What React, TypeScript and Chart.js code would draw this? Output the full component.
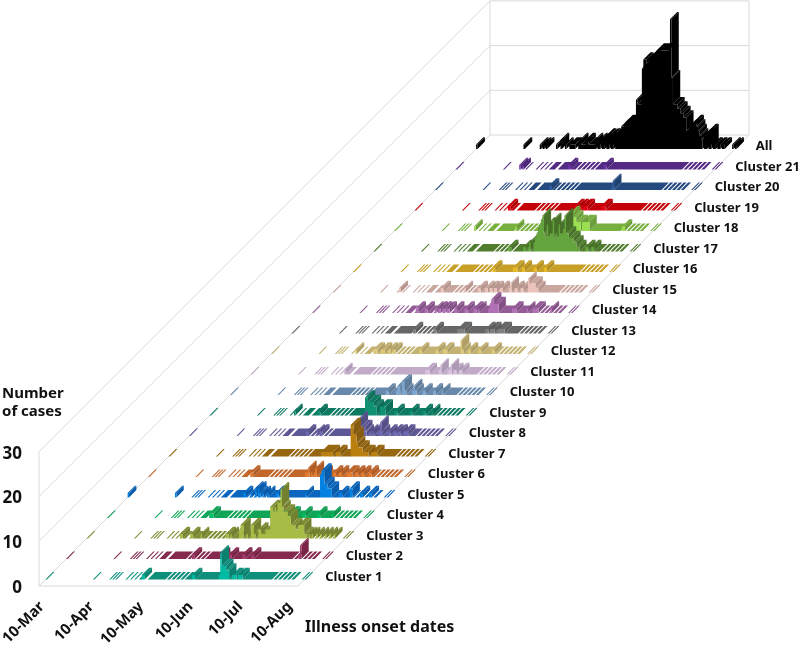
import React, { useEffect, useRef } from "react";
import { Chart, registerables } from "chart.js";

Chart.register(...registerables);

type Pair = number[];

// Onset-axis positions (in one-day slots) that have any case at all.
const onsetSlots = [
  0, 32, 43, 45, 47, 54, 57, 60, 63, 64, 65, 66,
  69, 70, 71, 72, 73, 74, 75, 76, 77, 78, 79, 80, 82, 83, 85, 86, 88, 89, 91, 92,
  94, 95, 96, 97, 98, 99, 100, 101, 102, 103, 104, 105, 106, 107, 108, 109, 110, 111, 112, 113,
  114, 115, 116, 117, 118, 119, 120, 121, 122, 123, 124, 125, 126, 127, 128, 129, 130, 131, 132, 133,
  134, 135, 136, 137, 138, 139, 140, 141, 142, 143, 144, 145, 146, 147, 148, 149, 150, 151, 152,
  154, 155, 157, 158, 160, 161, 163, 164, 166, 167, 173, 175,
];

const dateLabels = ["10-Mar", "10-Apr", "10-May", "10-Jun", "10-Jul", "10-Aug"];
const dateSlots = [2, 35.5, 69, 102.5, 136, 169.5];
const caseTicks = [0, 10, 20, 30];
const seriesNames = [
  "Cluster 1", "Cluster 2", "Cluster 3", "Cluster 4", "Cluster 5", "Cluster 6", "Cluster 7",
  "Cluster 8", "Cluster 9", "Cluster 10", "Cluster 11", "Cluster 12", "Cluster 13", "Cluster 14",
  "Cluster 15", "Cluster 16", "Cluster 17", "Cluster 18", "Cluster 19", "Cluster 20", "Cluster 21", "All",
];

// [slot, cases]; every other slot in onsetSlots holds zero cases.
const cluster1: Pair[] = [[65,1],[66,1],[99,1],[100,1],[117,1],[118,6],[119,3],[120,3],[121,3],[122,2],[123,2],[126,1],[127,1],[128,1],[130,1],[131,1],[132,1]];
const cluster2: Pair[] = [[85,1],[86,1],[104,1],[105,1],[110,1],[111,1],[119,1],[120,1],[125,1],[126,1],[157,1],[158,3]];
const cluster3: Pair[] = [[63,1],[64,1],[70,1],[71,1],[77,1],[94,1],[95,1],[97,1],[103,2],[104,3],[105,3],[108,1],[111,3],[112,3],[113,1],[116,2],[117,2],[118,1],[119,1],[120,1],[121,2],[122,2],[123,2],[124,7],[125,7],[126,6],[127,7],[128,6],[129,8],[130,8],[131,11],[132,7],[133,6],[134,6],[135,6],[136,5],[137,5],[138,3],[139,3],[140,3],[141,2],[142,2],[143,3],[144,3],[145,3],[146,3],[147,1],[148,1],[150,1],[152,1],[155,1],[158,1],[161,1],[164,1],[167,1]];
const cluster4: Pair[] = [[69,1],[70,1],[71,1],[123,1],[124,1],[125,1],[132,1],[133,1],[142,1],[143,1],[152,1]];
const cluster5: Pair[] = [[0,1],[32,1],[78,1],[79,1],[83,1],[86,2],[88,2],[89,1],[91,1],[94,1],[100,1],[101,1],[120,1],[130,5],[131,6],[132,6],[133,3],[134,3],[135,2],[136,2],[137,2],[143,1],[144,1],[150,2],[151,2],[157,1],[158,1],[163,1],[164,1]];
const cluster6: Pair[] = [[69,1],[70,1],[106,1],[107,1],[108,2],[110,1],[112,1],[113,2],[118,1],[119,1],[125,1],[126,1],[129,1],[130,1],[134,1],[135,1],[136,1],[137,1],[140,1],[141,1],[144,1],[145,1],[149,1],[150,1]];
const cluster7: Pair[] = [[103,1],[104,1],[105,1],[106,1],[107,1],[108,1],[109,1],[110,1],[113,1],[114,1],[115,1],[123,7],[124,7],[125,5],[126,5],[127,3],[128,2],[129,2],[130,2],[131,1],[132,1],[133,1],[134,1],[137,1],[138,1],[139,1],[140,1]];
const cluster8: Pair[] = [[79,1],[80,1],[86,1],[88,1],[89,1],[115,4],[116,2],[117,2],[118,2],[119,1],[122,1],[124,1],[128,1],[129,3],[130,1],[134,1],[135,1],[138,1],[139,1],[141,1],[142,1],[145,1],[146,1],[147,1]];
const cluster9: Pair[] = [[57,1],[73,1],[74,1],[105,4],[106,4],[107,3],[108,3],[109,3],[110,3],[111,2],[112,2],[115,2],[116,2],[117,2],[118,2],[125,1],[126,1],[135,1],[136,1],[144,1],[145,1],[150,1]];
const cluster10: Pair[] = [[105,1],[106,1],[112,1],[113,2],[114,2],[116,3],[117,3],[118,1],[123,1],[124,2],[125,1],[130,1],[131,1],[137,1],[138,1],[143,1]];
const cluster11: Pair[] = [[63,1],[118,1],[119,1],[120,1],[127,1],[128,2],[133,1],[134,1],[135,2],[137,1],[138,1],[141,1],[142,1]];
const cluster12: Pair[] = [[57,1],[69,1],[70,1],[71,1],[74,1],[75,1],[76,1],[79,1],[80,1],[82,1],[83,1],[100,1],[101,1],[111,1],[112,1],[116,1],[117,1],[118,1],[128,3],[129,1],[133,1],[134,1],[140,1],[141,1],[149,1],[150,1]];
const cluster13: Pair[] = [[82,1],[83,1],[96,1],[97,1],[112,1],[113,1],[114,1],[115,1],[116,1],[131,1],[132,1],[134,1],[135,1],[136,1],[139,1],[140,1],[141,1],[142,1],[143,1]];
const cluster14: Pair[] = [[70,1],[71,1],[76,1],[77,1],[83,1],[85,1],[86,1],[88,1],[89,1],[91,1],[92,1],[96,1],[97,1],[103,1],[104,1],[109,1],[110,1],[112,1],[119,1],[120,2],[121,3],[122,3],[123,2],[124,2],[125,2],[135,1],[136,1],[137,1],[145,1],[149,1],[150,1],[151,1],[152,1],[161,1]];
const cluster15: Pair[] = [[45,1],[73,1],[74,1],[89,1],[98,1],[99,1],[103,1],[104,1],[106,1],[107,1],[109,1],[110,1],[113,1],[114,1],[119,1],[120,2],[123,1],[124,1],[127,1],[128,1],[132,3],[133,2],[134,2],[135,2],[136,2],[137,1],[138,1]];
const cluster16: Pair[] = [[94,1],[95,1],[108,1],[109,1],[110,1],[114,1],[115,1],[122,1],[123,1],[129,1],[130,1]];
const cluster17: Pair[] = [[91,1],[92,1],[101,1],[102,1],[104,1],[105,2],[108,2],[109,3],[110,4],[111,5],[112,6],[113,7],[114,8],[115,4],[116,3],[117,6],[118,3],[119,4],[120,4],[121,7],[122,3],[123,4],[124,3],[125,6],[126,4],[127,4],[128,5],[129,8],[130,4],[131,4],[132,3],[133,3],[134,3],[135,2],[136,2],[137,1],[138,1],[143,1],[144,1],[147,1],[148,1]];
const cluster18: Pair[] = [[54,1],[82,1],[116,1],[118,2],[119,4],[120,4],[121,3],[122,3],[123,2],[124,2],[125,2],[127,2],[128,2],[129,2],[130,2],[131,2],[154,1],[155,1]];
const cluster19: Pair[] = [[63,1],[64,1],[108,1],[109,1],[111,1],[112,1],[114,1],[115,1],[116,1],[126,1],[127,1],[128,1]];
const cluster20: Pair[] = [[77,1],[78,1],[119,1],[120,2]];
const cluster21: Pair[] = [[43,1],[45,1],[76,1],[77,1],[100,1],[101,1]];
const allCases: Pair[] = [[0,1],[32,1],[43,1],[45,1],[47,1],[54,1],[57,2],[60,1],[63,1],[64,1],[65,1],[66,1],[69,1],[70,2],[71,1],[72,1],[73,1],[74,2],[75,2],[76,1],[77,1],[78,1],[79,1],[80,2],[82,1],[83,2],[85,2],[86,2],[88,3],[89,3],[91,3],[92,3],[94,3],[95,3],[96,3],[97,4],[98,5],[99,5],[100,5],[101,6],[102,6],[103,6],[104,6],[105,6],[106,6],[107,6],[108,11],[109,10],[110,10],[111,10],[112,18],[113,20],[114,20],[115,19],[116,19],[117,20],[118,20],[119,21],[120,21],[121,21],[122,22],[123,22],[124,22],[125,22],[126,22],[127,22],[128,22],[129,22],[130,23],[131,29],[132,16],[133,10],[134,10],[135,10],[136,9],[137,9],[138,8],[139,8],[140,7],[141,7],[142,4],[143,4],[144,5],[145,5],[146,5],[147,6],[148,6],[149,5],[150,4],[151,3],[152,2],[154,3],[155,3],[157,4],[158,4],[160,1],[161,1],[163,1],[164,1],[166,1],[167,1],[173,1],[175,1]];

const seriesValues: Pair[][] = [
  cluster1, cluster2, cluster3, cluster4, cluster5, cluster6, cluster7, cluster8, cluster9, cluster10, cluster11,
  cluster12, cluster13, cluster14, cluster15, cluster16, cluster17, cluster18, cluster19, cluster20, cluster21, allCases,
];

const topColors = ["#0E8F7C","#85294F","#7F8E34","#0FA556","#0A66BE","#C2662A","#966610","#5E5896","#0D7A62","#6889AB","#C2ABC9","#C4B273","#666666","#935A96","#C9A69E","#C8A027","#4F7C2D","#78B040","#C40009","#254A80","#552A85","#000000"];
const frontColors = ["#00BBA2","#A33A6C","#A6BC45","#00BF60","#0482E2","#E27C30","#B98010","#7068B2","#109272","#7EA6CE","#D6C0DD","#DCC878","#808080","#B070B4","#EBC3BA","#E8BA28","#64A43C","#9ADF50","#E40012","#2E5CA0","#6A32A2","#000000"];
const sideColors = ["#0C806E","#782547","#72802F","#0E944D","#095CAB","#AF5C26","#875C0E","#545087","#0C6E58","#5E7B9A","#AF9AB5","#B0A068","#5C5C5C","#845187","#B5958E","#B49023","#477028","#6C9E3A","#B00008","#214373","#4C2678","#000000"];

const PX_PER_SLOT = 1.48;
const PX_PER_CASE = 4.47;
const ROW_PX = 20.5;
const ROW_FRONT_PX = 6.6;
const ROW_DEPTH_PX = 7.3;
const LAST_SLOT = 175;

const project = (slot: number, depthPx: number, cases: number) => ({
  x: slot + depthPx / PX_PER_SLOT,
  y: cases + depthPx / PX_PER_CASE,
});
const GAP = { x: NaN, y: NaN };

function buildRow(values: Pair[], row: number) {
  const byslot = new Map(values.map(([s, v]) => [s, v]));
  const f = ROW_FRONT_PX + ROW_PX * row;
  const b = f + ROW_DEPTH_PX;
  const active = new Set(onsetSlots);
  const runs: number[][] = [];
  onsetSlots.forEach((s) => {
    const last = runs[runs.length - 1];
    if (last && last[last.length - 1] === s - 1) last.push(s);
    else runs.push([s]);
  });
  const front: any[] = [];
  const top: any[] = [];
  const side: any[] = [];
  const val = (s: number) => (active.has(s) ? byslot.get(s) ?? 0 : 0);
  for (const run of runs) {
    const end = run[run.length - 1] + 1;
    if (run.some((s) => val(s) > 0)) {
      front.push(project(run[0], f, 0));
      for (const s of run) {
        front.push(project(s, f, val(s)), project(s + 1, f, val(s)));
      }
      front.push(project(end, f, 0), GAP);
    }
    let i = 0;
    while (i < run.length) {
      let j = i;
      while (j + 1 < run.length && val(run[j + 1]) === val(run[i])) j++;
      const v = val(run[i]);
      const a = run[i];
      const e = run[j] + 1;
      top.push(project(a, f, v), project(e, f, v), project(e, b, v), project(a, b, v), GAP);
      i = j + 1;
    }
    for (const s of run) {
      const next = val(s + 1);
      if (val(s) > next) {
        side.push(project(s + 1, f, next), project(s + 1, f, val(s)), project(s + 1, b, val(s)), project(s + 1, b, next), GAP);
      }
    }
  }
  return { front, top, side };
}

function wallLines() {
  const depth = ROW_PX * seriesNames.length;
  const pts: any[] = [];
  for (const c of [0, 10, 20, 30]) {
    pts.push(project(0, 0, c), project(0, depth, c), project(LAST_SLOT, depth, c), GAP);
  }
  pts.push(project(0, 0, 0), project(0, 0, 30), GAP);
  pts.push(project(0, depth, 0), project(0, depth, 30), GAP);
  pts.push(project(LAST_SLOT, depth, 0), project(LAST_SLOT, depth, 30), GAP);
  pts.push(project(0, 0, 0), project(LAST_SLOT, 0, 0), project(LAST_SLOT, depth, 0), GAP);
  return pts;
}

const polygon = (label: string, data: any[], color: string) => ({
  label,
  data,
  showLine: true,
  fill: "shape",
  backgroundColor: color,
  borderColor: "rgba(0,0,0,0)",
  borderWidth: 0,
  pointRadius: 0,
  clip: false,
});

const textFont = '"Noto Sans", sans-serif';

const textPlugin = {
  id: "chartText",
  afterDraw(chart: any) {
    const { ctx, scales } = chart;
    ctx.save();
    ctx.fillStyle = "#111111";
    ctx.textBaseline = "middle";
    ctx.textAlign = "left";
    ctx.font = `bold 13px ${textFont}`;
    seriesNames.forEach((name, row) => {
      const p = project(LAST_SLOT, ROW_PX * row + ROW_PX / 2, 0);
      ctx.fillText(name, scales.x.getPixelForValue(p.x) + 17, scales.y.getPixelForValue(p.y) + 1.5);
    });
    ctx.font = `bold 15px ${textFont}`;
    ctx.fillText("Number", 2, 394);
    ctx.fillText("of cases", 2, 412);
    ctx.font = `bold 16px ${textFont}`;
    ctx.fillText("Illness onset dates", 305, 627);
    ctx.restore();
  },
};

const noPadding = (s: any) => {
  s.paddingTop = 0;
  s.paddingBottom = 0;
  s.paddingLeft = 0;
  s.paddingRight = 0;
};

export default function App() {
  const ref = useRef<HTMLCanvasElement | null>(null);
  useEffect(() => {
    const layers: any[] = [polygon("walls", wallLines(), "rgba(0,0,0,0)")];
    layers[0].fill = false;
    layers[0].borderColor = "#D9D9D9";
    layers[0].borderWidth = 1;
    for (let row = seriesValues.length - 1; row >= 0; row--) {
      const { front, top, side } = buildRow(seriesValues[row], row);
      layers.push(polygon(seriesNames[row] + " top", top, topColors[row]));
      layers.push(polygon(seriesNames[row] + " side", side, sideColors[row]));
      layers.push(polygon(seriesNames[row], front, frontColors[row]));
    }
    const chart = new Chart(ref.current as HTMLCanvasElement, {
      type: "scatter",
      data: { datasets: layers.reverse() },
      plugins: [textPlugin],
      options: {
        responsive: false,
        animation: false,
        layout: { padding: 0 },
        plugins: { legend: { display: false }, tooltip: { enabled: false }, title: { display: false } },
        scales: {
          x: {
            type: "linear",
            min: 0,
            max: (800 - 39) / PX_PER_SLOT,
            grid: { display: false, drawTicks: false },
            border: { display: false },
            afterBuildTicks: (s: any) => { s.ticks = dateSlots.map((value) => ({ value })); },
            afterFit: (s: any) => { s.height = 61; noPadding(s); },
            ticks: {
              autoSkip: false,
              minRotation: 45,
              maxRotation: 45,
              padding: 12,
              color: "#111111",
              font: { family: textFont, size: 15, weight: "bold" },
              callback: (v: any) => dateLabels[dateSlots.indexOf(v)] ?? "",
            },
          },
          y: {
            type: "linear",
            min: 0,
            max: 586 / PX_PER_CASE,
            grid: { display: false, drawTicks: false },
            border: { display: false },
            afterBuildTicks: (s: any) => { s.ticks = caseTicks.map((value) => ({ value })); },
            afterFit: (s: any) => { s.width = 39; noPadding(s); },
            ticks: {
              autoSkip: false,
              padding: 17,
              labelOffset: 2,
              color: "#111111",
              font: { family: textFont, size: 17, weight: "bold" },
              callback: (v: any) => String(v),
            },
          },
        },
      },
    } as any);
    return () => chart.destroy();
  }, []);
  return (
    <div style={{ position: "fixed", left: 0, top: 0, width: 800, height: 647, background: "#fff" }}>
      <canvas ref={ref} width={800} height={647} style={{ display: "block" }} />
    </div>
  );
}
